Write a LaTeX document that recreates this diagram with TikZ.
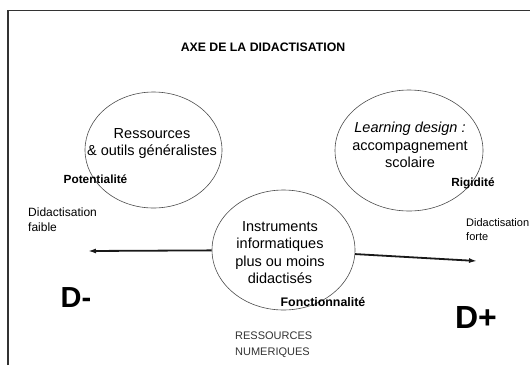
\documentclass[tikz,border=0pt]{standalone}
\usepackage{fontspec}
\setmainfont{Liberation Sans}
\usepackage{tikz}
\usetikzlibrary{shapes.geometric, % for ellipse
                arrows.meta, % for the axis tips
                positioning}

\begin{document}
\begin{tikzpicture}[x=1pt, y=-1pt,
                    Bulle/.style={draw=black!70, line width=.6pt, ellipse, inner sep=0},
                    bulle_text/.style={align=center, inner sep=0, font=\fontsize{14.5}{17.5}\selectfont},
                    pole/.style={inner sep=0, font=\bfseries\fontsize{11.8}{14}\selectfont},
                    cote/.style={align=left, inner sep=0, anchor=west},
                    axe/.style={-{Latex[length=8pt,width=5pt]}, line width=1.8pt, black!90}
                    ]
        \useasboundingbox (0,0) rectangle (530,365);
        \draw[line width=1.2pt, black!80] (8,365) -- (8,10.5) -- (530,10.5);

        \node[font=\bfseries\fontsize{12.3}{15}\selectfont] (titre) at (263,47) {AXE DE LA DIDACTISATION};

        % the three bubbles
        \node[Bulle, minimum width=137pt, minimum height=116pt] (generaux) at (153.5,150) {};
        \node[Bulle, minimum width=148pt, minimum height=121pt] (learning) at (409,150.5) {};
        \node[Bulle, minimum width=143pt, minimum height=120pt] (instr) at (283.5,250) {};

        \node[bulle_text] (generaux_t) at (152,143.5) {Ressources\\\& outils généralistes};
        \node[bulle_text] (learning_t) at (410,145) {\textit{Learning design :}\\accompagnement\\scolaire};
        \node[bulle_text] (instr_t) at (280,252.5) {Instruments\\informatiques\\plus ou moins\\didactisés};

        \node[pole] (potent) at (95.5,179) {Potentialité};
        \node[pole] (rigid) at (473,183) {Rigidité};
        \node[pole, font=\bfseries\fontsize{12.4}{14}\selectfont] (fonct) at (323,302) {Fonctionnalité};

        % the axis
        \coordinate (dmoins) at (88,251);
        \coordinate (dplus) at (477,261);
        \draw[axe] (instr) -- (dmoins);
        \draw[axe] (instr) -- (dplus);

        \node[cote, font=\fontsize{12}{15}\selectfont] (faible) at (28,219.5) {Didactisation\\faible};
        \node[cote, font=\fontsize{11}{14}\selectfont] (forte) at (466,230) {Didactisation\\forte};
        \node[font=\bfseries\fontsize{29}{32}\selectfont] (Dm) at (76,298) {D-};
        \node[font=\bfseries\fontsize{32}{36}\selectfont] (Dp) at (476,317) {D+};
        \node[cote, black!80, font=\fontsize{11}{16}\selectfont] (numer) at (235,345) {RESSOURCES\\NUMERIQUES};
    \end{tikzpicture}
\end{document}
